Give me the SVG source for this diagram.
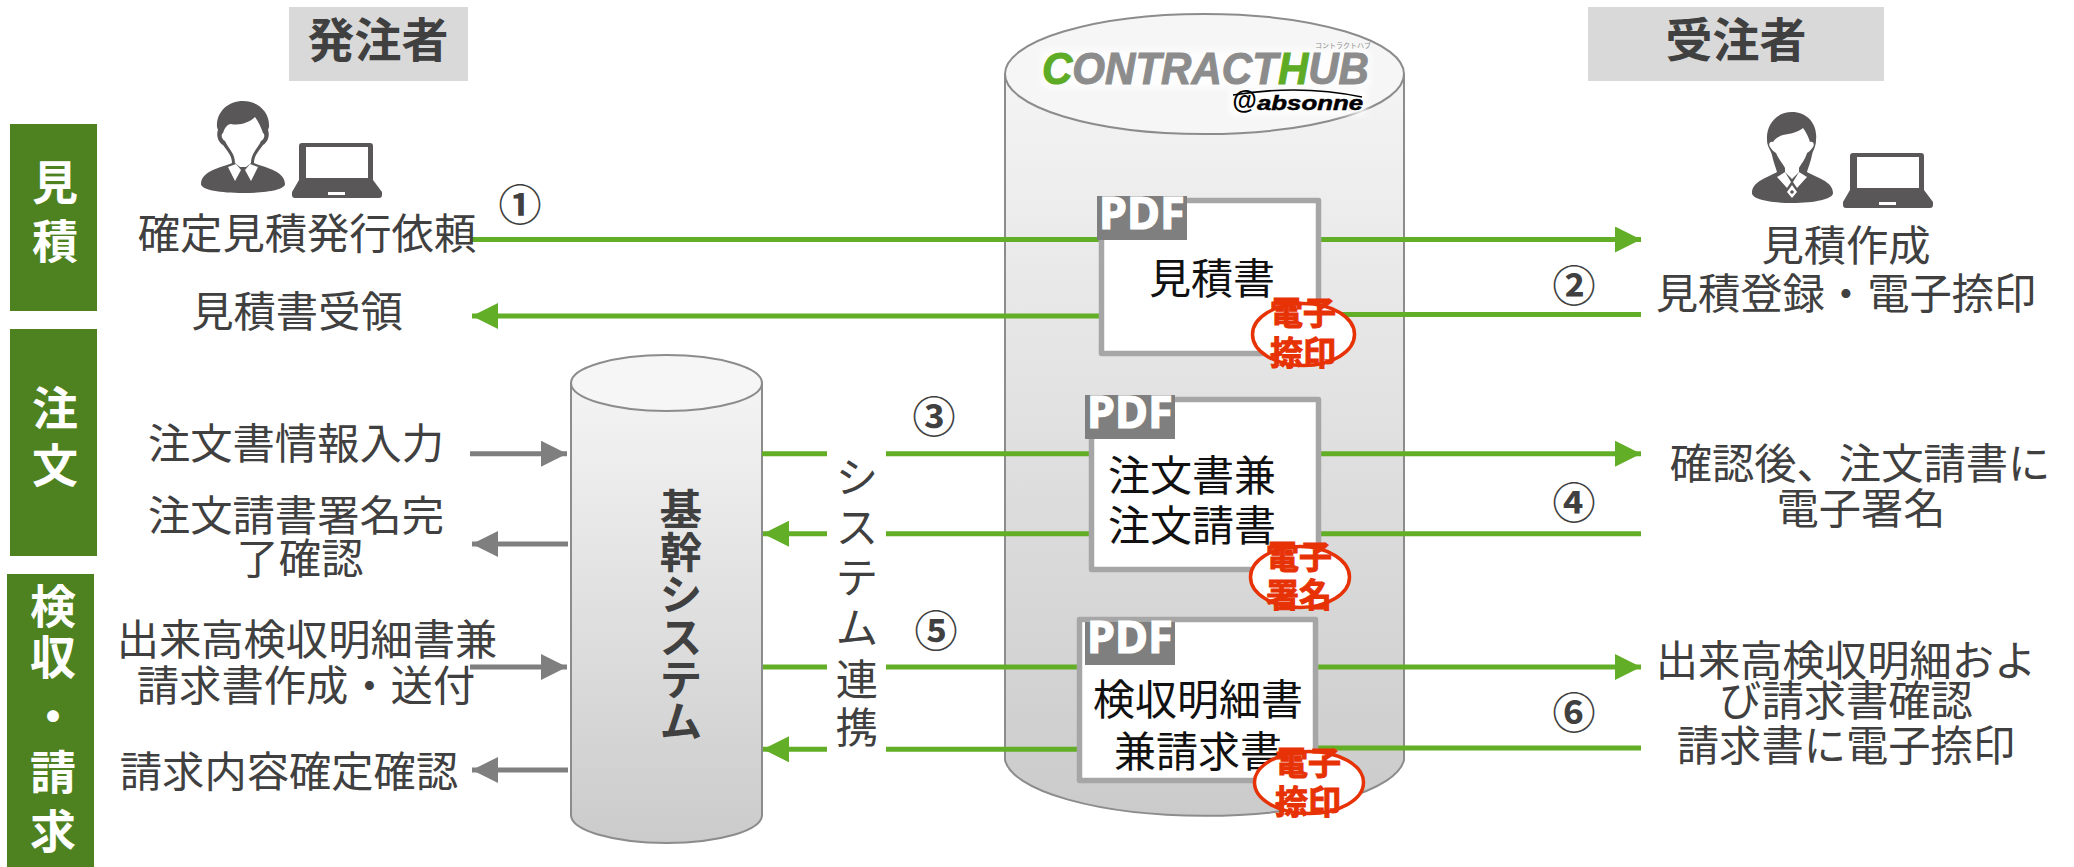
<svg xmlns="http://www.w3.org/2000/svg" width="2074" height="867" viewBox="0 0 2074 867">
<style>
text{font-family:"Noto Sans CJK JP","Noto Sans",sans-serif;text-anchor:middle}
.t{font-size:42.3px;fill:#404040}
.h{font-size:47px;font-weight:700;fill:#404040}
.bar{fill:#4e8220}
.bt{font-size:46px;font-weight:700;fill:#fff}
.head{fill:#d9d9d9}
.num{font-size:43px;font-weight:700;fill:#404040}
.cyl{stroke:#8c8c8c;stroke-width:2;fill:url(#cg)}
.cap{stroke:#8c8c8c;stroke-width:2;fill:#f6f6f6}
.doc{fill:#fff;stroke:#a6a6a6;stroke-width:5.5;stroke-linejoin:round}
.tag{fill:#7f7f7f}
.pdf{font-family:"Noto Sans",sans-serif;font-size:45px;font-weight:700;fill:#fff;stroke:#fff;stroke-width:1.2;text-anchor:start}
.dt{font-size:42px;fill:#111}
.st{fill:#fff;stroke:#e63205;stroke-width:3.5}
.stt{font-size:33px;font-weight:700;fill:#e63205;stroke:#e63205;stroke-width:1}
.g{stroke:#63ae27;stroke-width:5;fill:none}
.y{stroke:#7f7f7f;stroke-width:5;fill:none}
.ico{fill:#595757}
.w{fill:#fff}
.logo{font-family:"Liberation Sans",Arial,sans-serif;font-style:italic;font-weight:700;text-anchor:start}
</style>
<defs>
<linearGradient id="cg" x1="0" y1="0" x2="0" y2="1"><stop offset="0" stop-color="#f4f4f4"/><stop offset="1" stop-color="#cbcbcb"/></linearGradient>
<marker id="ag" markerUnits="userSpaceOnUse" markerWidth="26" markerHeight="26" refX="26" refY="13" orient="auto"><path d="M0,0L26,13L0,26Z" fill="#63ae27"/></marker>
<marker id="ay" markerUnits="userSpaceOnUse" markerWidth="26" markerHeight="26" refX="26" refY="13" orient="auto"><path d="M0,0L26,13L0,26Z" fill="#7f7f7f"/></marker>
<filter id="glow" x="-10%" y="-30%" width="120%" height="160%"><feGaussianBlur stdDeviation="3"/></filter>
</defs>
<g id="phase-mitsumori"><rect class="bar" x="10" y="124" width="87" height="187"/><text class="bt" x="55" y="199">見</text><text class="bt" x="55" y="258">積</text></g>
<g id="phase-chumon"><rect class="bar" x="10" y="329" width="87" height="227"/><text class="bt" x="55" y="425">注</text><text class="bt" x="55" y="482">文</text></g>
<g id="phase-kenshu"><rect class="bar" x="7" y="574" width="87" height="293"/><text class="bt" x="53" y="623">検</text><text class="bt" x="53" y="674">収</text><text class="bt" x="53" y="733">・</text><text class="bt" x="53" y="789">請</text><text class="bt" x="53" y="848">求</text></g>
<g id="header-orderer"><rect class="head" x="289" y="7" width="179" height="74"/><text class="h" x="378" y="57">発注者</text></g>
<g id="header-contractor"><rect class="head" x="1588" y="7" width="296" height="74"/><text class="h" x="1736" y="57">受注者</text></g>
<g id="contracthub">
<path class="cyl" d="M1005,74V760A200,60 0 0 0 1404,760V74Z"/>
<ellipse class="cap" cx="1204.5" cy="74" rx="199.5" ry="60"/>
<g id="logo">
<rect x="1042" y="50" width="328" height="38" fill="#fff" opacity=".8" filter="url(#glow)"/>
<rect x="1230" y="90" width="136" height="24" fill="#fff" filter="url(#glow)"/>
<text class="logo" x="1042" y="84" font-size="44" textLength="327" lengthAdjust="spacingAndGlyphs" stroke-width="1"><tspan fill="#5eab26" stroke="#5eab26">C</tspan><tspan fill="#8c8c8c" stroke="#8c8c8c">ONTRACT</tspan><tspan fill="#5eab26" stroke="#5eab26">H</tspan><tspan fill="#8c8c8c" stroke="#8c8c8c">UB</tspan></text>
<text x="1343" y="48" font-size="7" fill="#8c8c8c">コントラクトハブ</text>
<path d="M1233,95Q1300,84 1362,97" fill="none" stroke="#000" stroke-width="1.6"/>
<text class="logo" x="1232" y="109" font-size="25" fill="#000">@</text>
<text class="logo" x="1257" y="110" font-size="21" textLength="106" lengthAdjust="spacingAndGlyphs" fill="#000" stroke="#000" stroke-width=".5">absonne</text>
</g>
</g>
<g id="core-system">
<path class="cyl" d="M571,383V815A95.5,28 0 0 0 762,815V383Z"/>
<ellipse class="cap" cx="666.5" cy="383" rx="95.5" ry="28"/>
<text class="t" font-weight="700"><tspan x="681" y="525">基</tspan><tspan x="681" y="568">幹</tspan><tspan x="681" y="610">シ</tspan><tspan x="681" y="653">ス</tspan><tspan x="681" y="695">テ</tspan><tspan x="681" y="737">ム</tspan></text>
</g>
<g id="connectors">
<path class="g" d="M472,239.5H1100"/><path class="g" marker-end="url(#ag)" d="M1320,239.5H1641"/>
<path class="g" marker-end="url(#ag)" d="M1100,316H472"/><path class="g" d="M1320,314.5H1641"/>
<path class="g" d="M762,453.7H827M886,453.7H1090"/><path class="g" marker-end="url(#ag)" d="M1320,453.7H1641"/>
<path class="g" marker-end="url(#ag)" d="M827,533.7H763"/><path class="g" d="M886,533.7H1090M1320,533.7H1641"/>
<path class="g" d="M763,667H827M886,667H1078"/><path class="g" marker-end="url(#ag)" d="M1318,667H1641"/>
<path class="g" marker-end="url(#ag)" d="M827,749.3H763"/><path class="g" d="M886,749.3H1078M1318,748H1641"/>
<path class="y" marker-end="url(#ay)" d="M470,453.7H567"/>
<path class="y" marker-end="url(#ay)" d="M568,544H472"/>
<path class="y" marker-end="url(#ay)" d="M470,667H567"/>
<path class="y" marker-end="url(#ay)" d="M568,770H472"/>
</g>
<g id="doc-quote">
<rect class="doc" x="1101.5" y="200.5" width="217" height="153"/>
<rect class="tag" x="1097" y="196" width="90" height="44"/><text class="pdf" x="1099" y="229">PDF</text>
<text class="dt" x="1212" y="294">見積書</text>
</g>
<g id="stamp-quote"><ellipse class="st" cx="1303.5" cy="334.5" rx="51" ry="31"/><text class="stt" x="1303" y="325">電子</text><text class="stt" x="1303" y="365">捺印</text></g>
<g id="doc-order">
<rect class="doc" x="1091.5" y="399.5" width="227" height="170"/>
<rect class="tag" x="1085" y="395" width="90" height="44"/><text class="pdf" x="1087" y="428">PDF</text>
<text class="dt" x="1192" y="491">注文書兼</text><text class="dt" x="1192" y="541">注文請書</text>
</g>
<g id="stamp-order"><ellipse class="st" cx="1300" cy="577" rx="49.5" ry="30.5"/><text class="stt" x="1299" y="569">電子</text><text class="stt" x="1299" y="607">署名</text></g>
<g id="doc-invoice">
<rect class="doc" x="1079.5" y="619.5" width="236" height="161"/>
<rect class="tag" x="1085" y="622" width="90" height="43"/><text class="pdf" x="1087" y="653">PDF</text>
<text class="dt" x="1198" y="715">検収明細書</text><text class="dt" x="1198" y="767">兼請求書</text>
</g>
<g id="stamp-invoice"><ellipse class="st" cx="1309" cy="782.5" rx="54.5" ry="31"/><text class="stt" x="1308" y="775">電子</text><text class="stt" x="1308" y="814">捺印</text></g>
<g id="orderer-icon">
<path class="ico" d="M243,101C258,101 270,112 269,127L268,130C270,135 268,142 263,145C258,152 254,156 254,163C262,167 285,170 285,184C285,190 265,193 243,193C221,193 201,190 201,184C201,170 224,167 232,163C232,156 228,152 223,145C218,142 216,135 218,130L217,127C216,112 228,101 243,101Z"/>
<path class="w" d="M223,133C225,127 228,124 231,124C240,126 250,122 255,117C259,122 261,128 263,133C265,134 265,139 261,141C258,148 251,153 251,163L246,167H240L235,163C235,153 228,148 225,141C221,139 221,134 223,133Z"/>
<path class="w" d="M228,167L236,164L241,170L235,181ZM258,167L250,164L245,170L251,181Z"/>
<path class="ico" d="M302,143H370Q373,143 373,146V180L382,192V195Q382,198 379,198H295Q292,198 292,195V192L299,180V146Q299,143 302,143Z"/>
<rect class="w" x="306" y="147" width="62" height="31"/><rect class="w" x="328" y="192" width="17" height="3"/>
</g>
<g id="contractor-icon">
<path class="ico" d="M1792,112C1807,112 1818,124 1816,140C1816,147 1813,150 1812,155C1810,164 1808,168 1807,172C1815,177 1833,181 1833,193C1833,199 1815,203 1792,203C1769,203 1752,199 1752,193C1752,181 1769,177 1777,172C1776,168 1774,164 1772,155C1771,150 1767,147 1767,140C1766,124 1777,112 1792,112Z"/>
<path class="w" d="M1770,147C1768,144 1770,141 1773,142C1775,138 1780,136 1783,135C1790,134 1798,132 1803,128C1806,132 1809,138 1810,142C1813,141 1815,144 1813,147C1811,150 1809,152 1807,153C1805,160 1801,164 1799,168V172L1792,179L1785,172V168C1783,164 1779,160 1776,153C1774,152 1772,150 1770,147Z"/>
<path class="w" d="M1777,177L1785,172L1791,182L1787,188ZM1807,177L1799,172L1793,182L1797,188Z"/>
<path class="w" d="M1792,185L1797,192L1792,198L1787,192Z"/><circle class="ico" cx="1792" cy="192" r="1.8"/>
<path class="ico" d="M1853,153H1921Q1924,153 1924,156V190L1933,202V205Q1933,208 1930,208H1846Q1843,208 1843,205V202L1850,190V156Q1850,153 1853,153Z"/>
<rect class="w" x="1857" y="157" width="62" height="31"/><rect class="w" x="1879" y="202" width="17" height="3"/>
</g>
<g id="labels">
<text class="t" x="307" y="249">確定見積発行依頼</text>
<text class="t" x="297" y="327">見積書受領</text>
<text class="t" x="296" y="459">注文書情報入力</text>
<text class="t" x="296" y="531">注文請書署名完</text>
<text class="t" x="300" y="574">了確認</text>
<text class="t" x="307" y="655">出来高検収明細書兼</text>
<text class="t" x="306" y="701">請求書作成・送付</text>
<text class="t" x="289" y="787">請求内容確定確認</text>
<text class="t" x="1846" y="261">見積作成</text>
<text class="t" x="1846" y="309">見積登録・電子捺印</text>
<text class="t" x="1860" y="479">確認後、注文請書に</text>
<text class="t" x="1861" y="524">電子署名</text>
<text class="t" x="1846" y="676">出来高検収明細およ</text>
<text class="t" x="1846" y="716">び請求書確認</text>
<text class="t" x="1846" y="761">請求書に電子捺印</text>
<text class="t"><tspan x="857" y="493">シ</tspan><tspan x="857" y="543">ス</tspan><tspan x="857" y="593">テ</tspan><tspan x="857" y="643">ム</tspan><tspan x="857" y="695">連</tspan><tspan x="857" y="743">携</tspan></text>
<text class="num" x="520" y="221">①</text>
<text class="num" x="1574" y="302">②</text>
<text class="num" x="934" y="433">③</text>
<text class="num" x="1574" y="519">④</text>
<text class="num" x="936" y="647">⑤</text>
<text class="num" x="1574" y="729">⑥</text>
</g>
</svg>
